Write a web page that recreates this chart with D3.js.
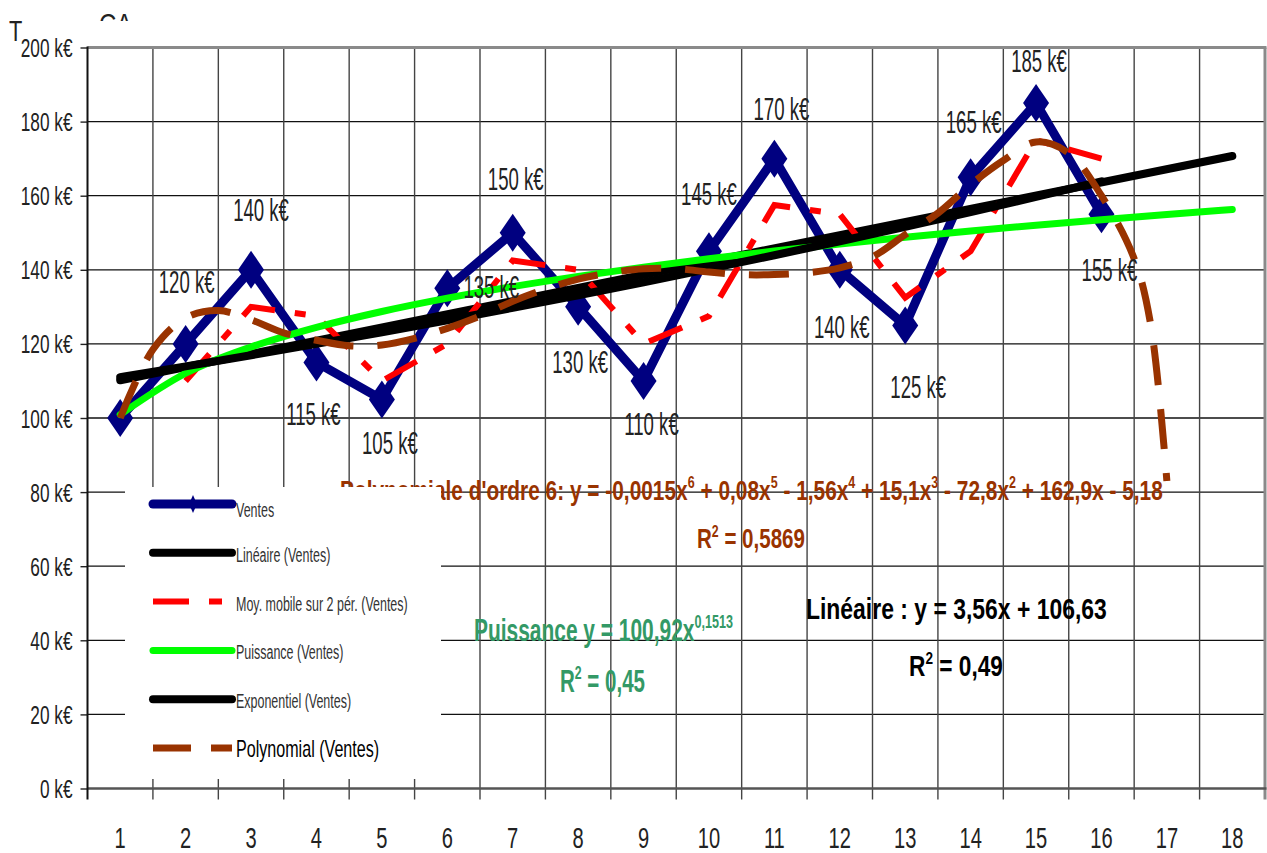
<!DOCTYPE html>
<html>
<head>
<meta charset="utf-8">
<script src="https://cdn.jsdelivr.net/npm/d3@7"></script>
<style>
  body { margin: 0; background: #fff; }
  text { font-family: "Liberation Sans", Arial, sans-serif; }
</style>
</head>
<body>
<script>
// chart values
const categories = ['1', '2', '3', '4', '5', '6', '7', '8', '9', '10', '11', '12', '13', '14', '15', '16', '17', '18'];
const ventes = [100, 120, 140, 115, 105, 135, 150, 130, 110, 145, 170, 140, 125, 165, 185, 155];
// moving average over 2 periods, starts at period 2
const moyMobileX = [2, 3, 4, 5, 6, 7, 8, 9, 10, 11, 12, 13, 14, 15, 16];
const moyMobile = [110, 130, 127.5, 110, 120, 142.5, 140, 120, 127.5, 157.5, 155, 132.5, 145, 175, 170];
// polynomial trend (order 6)
const polyX = [1, 1.5, 2, 2.5, 3, 3.5, 4, 4.5, 5, 5.5, 6, 6.5, 7, 7.5, 8, 8.5, 9, 9.5, 10, 10.5, 11, 11.5, 12, 12.5, 13, 13.5, 14, 14.5, 15, 15.5, 16, 16.5, 16.75, 17];
const polyY = [100, 118.5, 127, 129, 126.5, 123, 121, 119.5, 119.7, 121.5, 124.2, 127.5, 131.5, 134.8, 137.5, 139.2, 140.3, 140.3, 139.4, 138.7, 138.7, 139.2, 140.5, 143.5, 149.5, 155.3, 163, 169.5, 174.5, 171.5, 160, 143, 125.5, 83];
// trend equations shown on the chart
const linCoef = [3.56, 106.63];      // y = a x + b
const powCoef = [100.92, 0.1513];    // y = a x^b
const expCoef = [108.16, 0.02597];   // y = a e^(b x)
const trendX = [1, 2, 3, 4, 5, 6, 7, 8, 9, 10, 11, 12, 13, 14, 15, 16, 17, 18];
const expEnd = 16;
const yTicks = [0, 20, 40, 60, 80, 100, 120, 140, 160, 180, 200];

const legendItems = ['Ventes', 'Linéaire (Ventes)', 'Moy. mobile sur 2 pér. (Ventes)', 'Puissance (Ventes)', 'Exponentiel (Ventes)', 'Polynomial (Ventes)'];

// label placement around each point (dx, dy to baseline), null = no label
const labelOffsets = [null, [1, -51], [10, -49], [-3, 63], [8, 55], [44, 10], [3, -43], [2, 66], [8, 54],
  [0, -46], [7, -39], [2, 68], [13, 73], [3, -44], [3, -31], [8, 67]];

const W = 1267, H = 853;
const plotLeft = 87.5, plotRight = 1265, plotTop = 47.5, plotBottom = 788.5;

const svg = d3.select('body').append('svg')
    .attr('width', W)
    .attr('height', H);

const x = d3.scaleBand().domain(categories).range([plotLeft, plotRight]);
const xNum = d3.scaleLinear().domain([0.5, 18.5]).range([plotLeft, plotRight]);
const y = d3.scaleLinear().domain([0, 200]).range([plotBottom, plotTop]);

const NAVY = '#000080', BROWN = '#993300';

// text squeezed horizontally (the original is a narrow font)
function narrowText(parent, str, px, py, size, sx, anchor) {
    return parent.append('text')
        .attr('transform', `translate(${px},${py}) scale(${sx},1)`)
        .attr('text-anchor', anchor || 'start')
        .style('font-size', size + 'px')
        .text(str);
}

// text with ^superscripts, stretched to fit between x0 and x1
function fitText(parent, str, x0, x1, baseline, size, color) {
    const g = parent.append('g');
    const t = g.append('text')
        .style('font-size', size + 'px')
        .style('font-weight', 'bold')
        .attr('fill', color);
    const parts = str.split(/\^([\d,]+)/);
    parts.forEach((p, i) => {
        if (i % 2 === 1) {
            t.append('tspan').attr('dy', -0.42 * size).style('font-size', (0.6 * size) + 'px').text(p);
        } else if (p.length) {
            t.append('tspan').attr('dy', i > 0 ? 0.42 * size : 0).text(p);
        }
    });
    const bb = t.node().getBBox();
    const s = (x1 - x0) / bb.width;
    g.attr('transform', `translate(${x0 - bb.x * s},${baseline}) scale(${s},1)`);
    return g;
}

// title remains (cut off in the original)
svg.append('defs').append('clipPath').attr('id', 'titleClip')
    .append('rect').attr('x', 0).attr('y', 0).attr('width', 300).attr('height', 21);
narrowText(svg, 'T', 9, 41, 29, 0.75).attr('fill', '#222');
narrowText(svg.append('g').attr('clip-path', 'url(#titleClip)'), 'CA', 99, 34, 30, 0.8).attr('fill', '#222');

// grid
const grid = svg.append('g');
grid.selectAll('.hgrid')
    .data(yTicks.filter(d => d > 0 && d < 200))
    .enter().append('line')
    .attr('x1', plotLeft).attr('x2', plotRight)
    .attr('y1', d => y(d)).attr('y2', d => y(d))
    .attr('stroke', '#111').attr('stroke-width', 1.3);
grid.selectAll('.vgrid')
    .data(categories.slice(1))
    .enter().append('line')
    .attr('x1', d => x(d)).attr('x2', d => x(d))
    .attr('y1', plotTop).attr('y2', plotBottom + 11)
    .attr('stroke', '#444').attr('stroke-width', 1.4);

// plot border
svg.append('line').attr('x1', plotLeft).attr('x2', plotRight + 1.5).attr('y1', plotTop).attr('y2', plotTop)
    .attr('stroke', '#8a8a8a').attr('stroke-width', 3);
svg.append('line').attr('x1', plotRight).attr('x2', plotRight).attr('y1', plotTop).attr('y2', plotBottom + 11)
    .attr('stroke', '#8a8a8a').attr('stroke-width', 3);
svg.append('line').attr('x1', plotLeft).attr('x2', plotRight + 1.5).attr('y1', plotBottom).attr('y2', plotBottom)
    .attr('stroke', '#555').attr('stroke-width', 2.5);

// y axis
const yAxis = svg.append('g')
    .attr('transform', `translate(${plotLeft},0)`)
    .call(d3.axisLeft(y).tickValues(yTicks).tickSize(7).tickFormat(d => d + ' k€'));
yAxis.select('.domain').remove();
yAxis.selectAll('.tick line').attr('stroke', '#222').attr('stroke-width', 1.4);
yAxis.selectAll('.tick text')
    .attr('x', null).attr('dy', null)
    .attr('transform', 'translate(-15,9) scale(0.69,1)')
    .style('font-size', '25px')
    .style('font-family', '"Liberation Sans", Arial, sans-serif')
    .attr('fill', '#222');
svg.append('line').attr('x1', plotLeft).attr('x2', plotLeft).attr('y1', plotTop - 1).attr('y2', plotBottom + 11)
    .attr('stroke', '#111').attr('stroke-width', 2);

// x axis labels
const xAxis = svg.append('g')
    .attr('transform', `translate(0,${plotBottom})`)
    .call(d3.axisBottom(x).tickSize(0));
xAxis.select('.domain').remove();
xAxis.selectAll('.tick text')
    .attr('y', null).attr('dy', null)
    .attr('transform', 'translate(0,59) scale(0.67,1)')
    .style('font-size', '30px')
    .style('font-family', '"Liberation Sans", Arial, sans-serif')
    .attr('fill', '#222');

// trend equations (drawn before the legend, which hides part of the first one)
fitText(svg, "Polynomiale d'ordre 6: y = -0,0015x^6 + 0,08x^5 - 1,56x^4 + 15,1x^3 - 72,8x^2 + 162,9x - 5,18",
    340, 1163, 500, 28, BROWN);
fitText(svg, 'R^2 = 0,5869', 697, 805, 548, 27, BROWN);
fitText(svg, 'Puissance y = 100,92x^0,1513', 474, 733, 641, 31, '#339966');
fitText(svg, 'R^2 = 0,45', 560, 645, 692, 31, '#339966');
fitText(svg, 'Linéaire : y = 3,56x + 106,63', 806, 1107, 619, 29, '#000');
fitText(svg, 'R^2 = 0,49', 909, 1003, 676, 29, '#000');

// ventes series
const ventesPts = ventes.map((v, i) => [x(categories[i]) + x.bandwidth() / 2, y(v)]);
svg.append('path')
    .attr('d', d3.line()(ventesPts))
    .attr('fill', 'none')
    .attr('stroke', NAVY)
    .attr('stroke-width', 9)
    .attr('stroke-linejoin', 'miter');
svg.selectAll('.diamond')
    .data(ventesPts)
    .enter().append('path')
    .attr('d', d => `M${d[0]},${d[1] - 19}L${d[0] + 13},${d[1]}L${d[0]},${d[1] + 19}L${d[0] - 13},${d[1]}Z`)
    .attr('fill', NAVY);

// trend lines
const linePath = d3.line().x(d => xNum(d[0])).y(d => y(d[1]));
const curvePath = d3.line().x(d => xNum(d[0])).y(d => y(d[1])).curve(d3.curveMonotoneX);

svg.append('path')
    .attr('d', linePath([[trendX[0], linCoef[0] * trendX[0] + linCoef[1]],
        [trendX[trendX.length - 1], linCoef[0] * trendX[trendX.length - 1] + linCoef[1]]]))
    .attr('fill', 'none').attr('stroke', '#000').attr('stroke-width', 8).attr('stroke-linecap', 'round');

svg.append('path')
    .attr('d', linePath(moyMobileX.map((d, i) => [d, moyMobile[i]])))
    .attr('fill', 'none').attr('stroke', '#ff0000').attr('stroke-width', 6)
    .attr('stroke-dasharray', '36,20,11,20');

svg.append('path')
    .attr('d', curvePath(trendX.map(d => [d, powCoef[0] * Math.pow(d, powCoef[1])])))
    .attr('fill', 'none').attr('stroke', '#00ff00').attr('stroke-width', 7).attr('stroke-linecap', 'round');

svg.append('path')
    .attr('d', curvePath(trendX.filter(d => d <= expEnd).map(d => [d, expCoef[0] * Math.exp(expCoef[1] * d)])))
    .attr('fill', 'none').attr('stroke', '#000').attr('stroke-width', 8).attr('stroke-linecap', 'round');

svg.append('path')
    .attr('d', d3.line().x(d => xNum(d[0])).y(d => y(d[1])).curve(d3.curveCatmullRom)(polyX.map((d, i) => [d, polyY[i]])))
    .attr('fill', 'none').attr('stroke', BROWN).attr('stroke-width', 7)
    .attr('stroke-dasharray', '40,24');

// data labels
ventesPts.forEach((p, i) => {
    if (!labelOffsets[i]) return;
    narrowText(svg, ventes[i] + ' k€', p[0] + labelOffsets[i][0], p[1] + labelOffsets[i][1], 31, 0.6, 'middle')
        .attr('fill', '#222');
});

// legend
const legend = svg.append('g');
legend.append('rect')
    .attr('x', 125).attr('y', 487).attr('width', 316).attr('height', 292)
    .attr('fill', '#fff');
const legY = d3.scalePoint().domain(legendItems).range([504, 748]);
const lx0 = 153, lx1 = 232;

const sample = (item) => legend.append('line')
    .attr('x1', lx0).attr('x2', lx1)
    .attr('y1', legY(item)).attr('y2', legY(item));

sample(legendItems[0]).attr('stroke', NAVY).attr('stroke-width', 9).attr('stroke-linecap', 'round');
legend.append('path')
    .attr('d', `M193,${legY(legendItems[0]) - 9}L197,${legY(legendItems[0])}L193,${legY(legendItems[0]) + 9}L189,${legY(legendItems[0])}Z`)
    .attr('fill', NAVY);
sample(legendItems[1]).attr('stroke', '#000').attr('stroke-width', 8).attr('stroke-linecap', 'round');
sample(legendItems[2]).attr('stroke', '#ff0000').attr('stroke-width', 6).attr('stroke-dasharray', '36,20').attr('x2', 222);
sample(legendItems[3]).attr('stroke', '#00ff00').attr('stroke-width', 7).attr('stroke-linecap', 'round');
sample(legendItems[4]).attr('stroke', '#000').attr('stroke-width', 8).attr('stroke-linecap', 'round');
sample(legendItems[5]).attr('stroke', BROWN).attr('stroke-width', 7).attr('stroke-dasharray', '38,20');

legendItems.forEach((item, i) => {
    const big = i === legendItems.length - 1;
    narrowText(legend, item, 236, legY(item) + (i === 0 ? 13 : 9), big ? 23 : 19.5, big ? 0.70 : 0.64)
        .attr('fill', big ? '#000' : '#333');
});
</script>
</body>
</html>
